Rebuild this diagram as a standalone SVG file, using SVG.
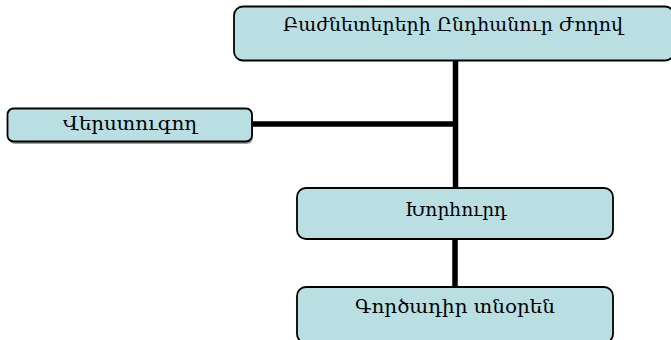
<svg xmlns="http://www.w3.org/2000/svg" width="671" height="340" viewBox="0 0 671 340">
<style>
.box{fill:#B9DFE3;stroke:#000;stroke-width:1.8}
.shadow{fill:#8a8a8a;opacity:0.8}
.lbl{font-family:"DejaVu Serif","Noto Serif","Liberation Serif",serif;font-size:19px;fill:#000;text-anchor:middle}
.conn{stroke:#000;stroke-width:5.5;fill:none}
</style>
<rect width="671" height="340" fill="#fff"/>
<g id="connectors">
<line class="conn" x1="455.5" y1="60" x2="455.5" y2="188"/>
<line class="conn" x1="252" y1="124" x2="455.5" y2="124"/>
<line class="conn" x1="455" y1="239" x2="455" y2="287"/>
</g>
<g id="node-shareholders">
<rect class="box" x="234" y="6.5" width="440" height="54" rx="9"/>
<text class="lbl" x="453" y="31" textLength="340" lengthAdjust="spacingAndGlyphs">Բաժնետերերի Ընդհանուր Ժողով</text>
</g>
<g id="node-auditor">
<rect class="shadow" x="9" y="111" width="244" height="33" rx="6"/>
<rect class="box" x="7.5" y="108.5" width="244.5" height="33" rx="6"/>
<text class="lbl" x="130" y="130" textLength="134" lengthAdjust="spacingAndGlyphs">Վերստուգող</text>
</g>
<g id="node-board">
<rect class="box" x="297" y="188" width="316" height="51" rx="9"/>
<text class="lbl" x="456" y="216" textLength="102" lengthAdjust="spacingAndGlyphs">Խորհուրդ</text>
</g>
<g id="node-director">
<rect class="box" x="297" y="287" width="316" height="56" rx="9"/>
<text class="lbl" x="455" y="313" textLength="200" lengthAdjust="spacingAndGlyphs">Գործադիր տնօրեն</text>
</g>
</svg>
